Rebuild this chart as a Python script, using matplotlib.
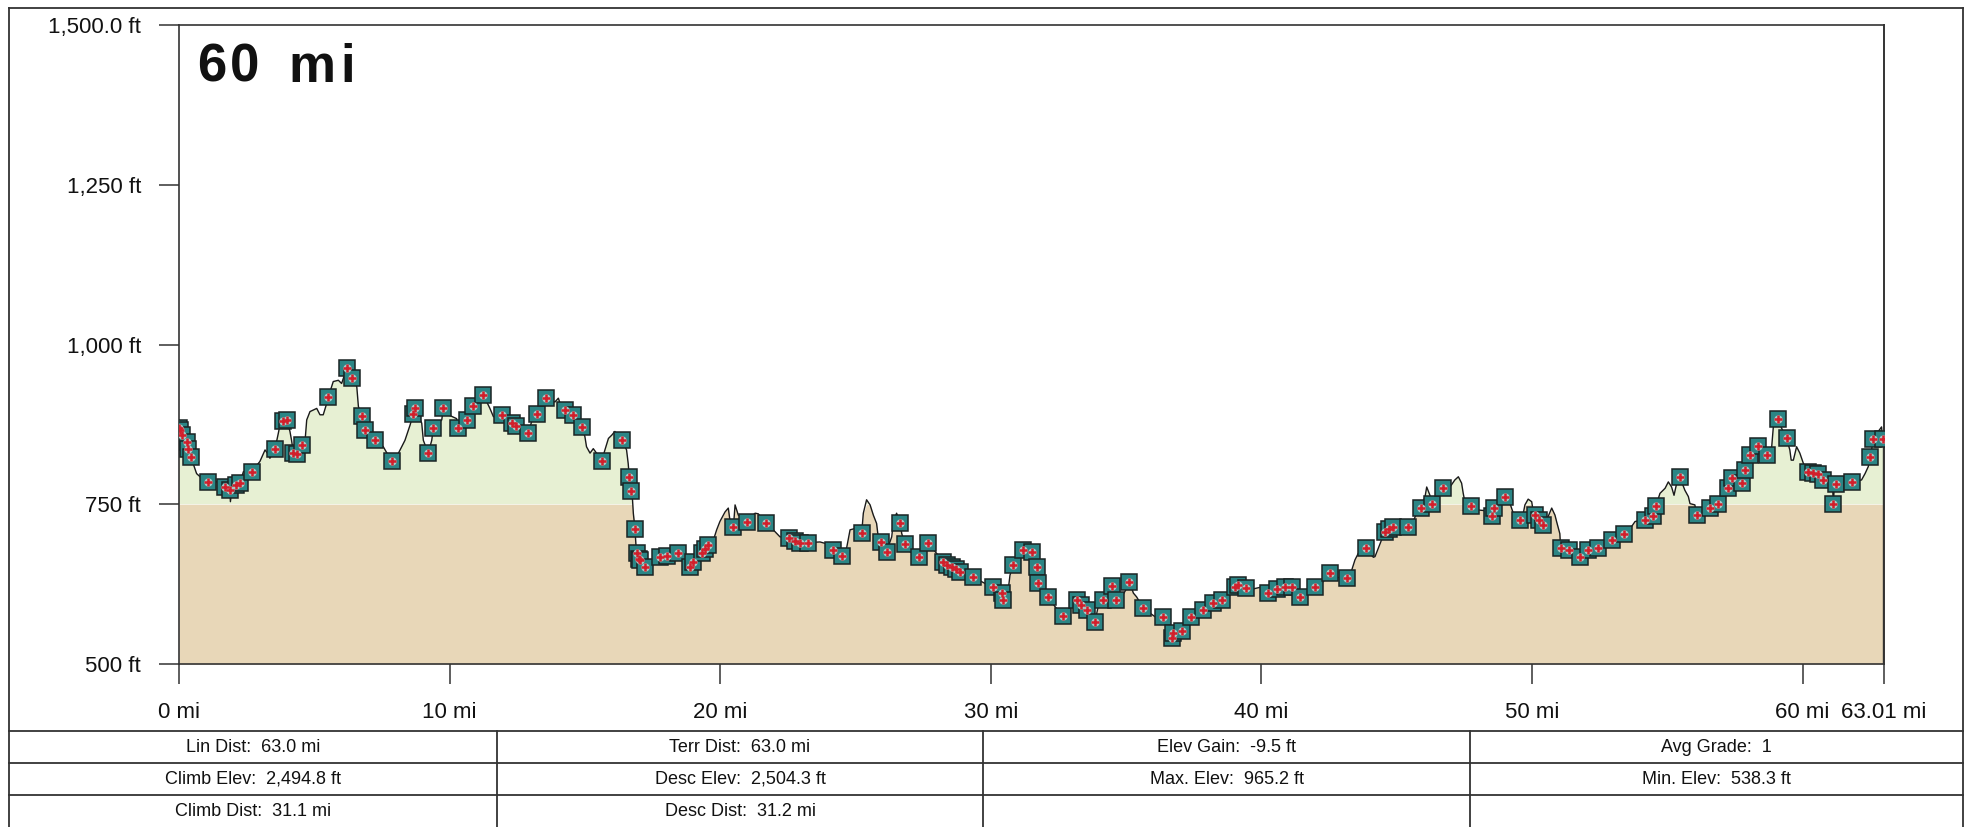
import matplotlib
matplotlib.use("Agg")
import matplotlib.pyplot as plt
import numpy as np
from matplotlib.lines import Line2D

plt.rcParams['font.family'] = ['Liberation Sans', 'DejaVu Sans']

# ---------------- data ----------------
dist_mi = [
    0.00, 0.05, 0.10, 0.30, 0.34, 0.44, 0.65, 0.78, 1.08, 1.45,
    1.70, 1.88, 1.90, 1.95, 2.10, 2.25, 2.38, 2.69, 2.99, 3.18,
    3.30, 3.36, 3.55, 3.67, 3.73, 3.85, 3.98, 4.10, 4.16, 4.23,
    4.35, 4.53, 4.66, 4.72, 4.84, 5.09, 5.21, 5.33, 5.46, 5.52,
    5.70, 5.89, 6.01, 6.20, 6.38, 6.57, 6.63, 6.75, 6.87, 7.24,
    7.55, 7.86, 7.98, 8.11, 8.35, 8.54, 8.66, 8.72, 8.97, 9.03,
    9.21, 9.34, 9.40, 9.71, 9.77, 9.95, 10.26, 10.32, 10.50, 10.63,
    10.88, 11.25, 11.49, 11.62, 11.92, 12.29, 12.45, 12.60, 12.91, 13.03,
    13.22, 13.40, 13.56, 13.89, 14.02, 14.08, 14.26, 14.57, 14.88, 15.00,
    15.06, 15.19, 15.31, 15.43, 15.62, 15.74, 15.87, 15.99, 16.11, 16.17,
    16.38, 16.54, 16.60, 16.64, 16.69, 16.76, 16.79, 16.85, 16.89, 16.94,
    17.00, 17.04, 17.22, 17.59, 17.78, 18.02, 18.45, 18.76, 18.88, 19.00,
    19.07, 19.31, 19.45, 19.56, 19.75, 19.87, 19.99, 20.18, 20.30, 20.36,
    20.49, 20.55, 20.67, 20.79, 20.98, 21.29, 21.41, 21.68, 21.96, 22.21,
    22.54, 22.75, 22.95, 23.26, 23.69, 23.94, 24.18, 24.51, 24.67, 24.80,
    24.98, 25.23, 25.29, 25.41, 25.54, 25.66, 25.78, 25.84, 25.94, 26.15,
    26.34, 26.40, 26.52, 26.65, 26.71, 26.83, 27.01, 27.35, 27.57, 27.67,
    28.00, 28.25, 28.40, 28.55, 28.70, 28.86, 29.35, 29.79, 30.09, 30.40,
    30.44, 30.65, 30.71, 30.83, 31.02, 31.20, 31.51, 31.69, 31.76, 32.13,
    32.37, 32.68, 32.99, 33.17, 33.35, 33.54, 33.85, 33.97, 34.16, 34.28,
    34.47, 34.63, 34.71, 34.84, 35.02, 35.12, 35.27, 35.39, 35.64, 36.07,
    36.38, 36.56, 36.62, 36.68, 36.75, 37.05, 37.24, 37.40, 37.85, 38.22,
    38.53, 38.84, 39.02, 39.15, 39.33, 39.45, 39.64, 40.07, 40.26, 40.56,
    40.87, 41.12, 41.43, 41.67, 41.98, 42.29, 42.53, 42.72, 43.15, 43.34,
    43.46, 43.58, 43.85, 44.01, 44.14, 44.20, 44.32, 44.44, 44.57, 44.72,
    44.87, 45.18, 45.43, 45.61, 45.74, 45.90, 46.05, 46.11, 46.23, 46.29,
    46.48, 46.72, 46.97, 47.15, 47.28, 47.40, 47.46, 47.52, 47.74, 48.02,
    48.26, 48.51, 48.61, 48.82, 49.00, 49.19, 49.31, 49.56, 49.68, 49.74,
    49.86, 49.99, 50.05, 50.11, 50.25, 50.42, 50.60, 50.73, 50.85, 50.91,
    51.03, 51.06, 51.37, 51.77, 52.08, 52.45, 52.94, 53.40, 53.68, 53.81,
    54.18, 54.48, 54.58, 54.73, 54.92, 55.04, 55.16, 55.25, 55.35, 55.47,
    55.65, 55.78, 55.84, 56.02, 56.09, 56.33, 56.58, 56.89, 57.07, 57.26,
    57.38, 57.56, 57.75, 57.87, 58.06, 58.36, 58.67, 58.86, 58.92, 59.08,
    59.26, 59.41, 59.53, 59.58, 59.66, 59.78, 59.90, 60.03, 60.21, 60.40,
    60.58, 60.77, 61.10, 61.14, 61.18, 61.22, 61.57, 61.84, 62.18, 62.31,
    62.43, 62.49, 62.55, 62.61, 62.80, 62.92, 62.96, 63.01,
]

elev_ft = [
    870, 866, 858, 848, 837, 824, 798, 793, 785, 785,
    777, 772, 754, 772, 780, 783, 801, 801, 817, 835,
    828, 822, 837, 861, 874, 880, 882, 864, 850, 830,
    828, 843, 850, 882, 895, 900, 890, 890, 908, 918,
    942, 944, 939, 963, 947, 934, 903, 888, 866, 850,
    840, 817, 806, 830, 850, 874, 892, 900, 877, 850,
    830, 850, 869, 882, 900, 890, 884, 869, 880, 882,
    903, 921, 900, 887, 890, 877, 872, 869, 862, 879,
    892, 908, 916, 910, 916, 908, 897, 890, 871, 856,
    840, 830, 837, 830, 817, 835, 853, 858, 864, 856,
    850, 835, 814, 793, 770, 757, 736, 712, 684, 674,
    665, 662, 652, 662, 668, 669, 673, 660, 652, 660,
    662, 673, 680, 686, 694, 710, 723, 738, 744, 725,
    715, 749, 733, 730, 723, 736, 735, 720, 710, 699,
    697, 692, 689, 690, 691, 688, 679, 669, 681, 710,
    712, 705, 736, 757, 749, 733, 720, 699, 691, 676,
    699, 723, 736, 720, 704, 688, 676, 667, 689, 690,
    673, 659, 655, 652, 648, 644, 636, 626, 620, 611,
    600, 618, 639, 655, 668, 679, 676, 652, 626, 605,
    590, 575, 590, 600, 592, 584, 566, 590, 600, 618,
    622, 600, 590, 605, 618, 629, 611, 605, 587, 574,
    574, 566, 553, 540, 548, 552, 566, 574, 584, 595,
    600, 611, 621, 624, 621, 619, 617, 621, 611, 617,
    621, 620, 605, 616, 620, 629, 643, 636, 634, 647,
    663, 673, 681, 673, 667, 668, 681, 694, 707, 711,
    715, 715, 714, 723, 736, 744, 762, 777, 764, 750,
    767, 775, 777, 788, 793, 783, 767, 754, 747, 741,
    740, 731, 744, 754, 762, 751, 736, 726, 736, 749,
    758, 754, 738, 733, 725, 717, 731, 744, 733, 723,
    704, 681, 678, 667, 678, 681, 694, 703, 715, 723,
    726, 732, 747, 767, 775, 785, 777, 764, 783, 792,
    772, 762, 751, 749, 733, 736, 744, 750, 772, 775,
    791, 783, 783, 804, 827, 841, 827, 840, 871, 883,
    866, 853, 835, 819, 819, 840, 830, 814, 801, 799,
    797, 788, 785, 751, 785, 782, 785, 785, 788, 798,
    809, 824, 835, 852, 864, 871, 852, 855,
]

# 1 = waypoint marker drawn on that profile point
waypoint = [
    1, 1, 1, 1, 1, 1, 0, 0, 1, 0,
    1, 1, 0, 0, 1, 1, 0, 1, 0, 0,
    0, 0, 1, 0, 0, 1, 1, 0, 0, 1,
    1, 1, 0, 0, 0, 0, 0, 0, 0, 1,
    0, 0, 0, 1, 1, 0, 0, 1, 1, 1,
    0, 1, 0, 0, 0, 0, 1, 1, 0, 0,
    1, 0, 1, 0, 1, 0, 0, 1, 0, 1,
    1, 1, 0, 0, 1, 1, 1, 0, 1, 0,
    1, 0, 1, 0, 0, 0, 1, 1, 1, 0,
    0, 0, 0, 0, 1, 0, 0, 0, 0, 0,
    1, 0, 0, 1, 1, 0, 0, 1, 0, 1,
    1, 1, 1, 0, 1, 1, 1, 0, 1, 1,
    0, 1, 1, 1, 0, 0, 0, 0, 0, 0,
    1, 0, 0, 0, 1, 0, 0, 1, 0, 0,
    1, 1, 1, 1, 0, 0, 1, 1, 0, 0,
    0, 1, 0, 0, 0, 0, 0, 0, 1, 1,
    0, 0, 0, 1, 0, 1, 0, 1, 0, 1,
    0, 1, 1, 1, 1, 1, 1, 0, 1, 1,
    1, 0, 0, 1, 0, 1, 1, 1, 1, 1,
    0, 1, 0, 1, 1, 1, 1, 0, 1, 0,
    1, 1, 0, 0, 0, 1, 0, 0, 1, 0,
    1, 0, 0, 1, 1, 1, 0, 1, 1, 1,
    1, 0, 1, 1, 0, 1, 0, 0, 1, 1,
    1, 1, 1, 0, 1, 0, 1, 0, 1, 0,
    0, 0, 1, 0, 0, 0, 0, 0, 1, 1,
    1, 0, 1, 0, 0, 1, 0, 0, 0, 1,
    0, 1, 0, 0, 0, 0, 0, 0, 1, 0,
    0, 1, 1, 0, 1, 0, 0, 1, 0, 0,
    0, 0, 0, 1, 1, 1, 0, 0, 0, 0,
    0, 1, 1, 1, 1, 1, 1, 1, 0, 0,
    1, 1, 1, 0, 0, 0, 0, 0, 0, 1,
    0, 0, 0, 0, 1, 0, 1, 1, 0, 1,
    1, 0, 1, 1, 1, 1, 1, 0, 0, 1,
    0, 1, 0, 0, 0, 0, 0, 0, 1, 1,
    1, 1, 0, 1, 0, 1, 0, 1, 0, 0,
    0, 1, 0, 1, 0, 0, 1, 0,
]

x_ticks = [0, 10, 20, 30, 40, 50, 60, 63.01]
x_tick_labels = ["0 mi", "10 mi", "20 mi", "30 mi", "40 mi", "50 mi", "60 mi", "63.01 mi"]
y_ticks = [500, 750, 1000, 1250, 1500]
y_tick_labels = ["500 ft", "750 ft", "1,000 ft", "1,250 ft", "1,500.0 ft"]
band_ft = 750
title_chars = ["6", "0", "m", "i"]
stats_rows = [
    ["Lin Dist:  63.0 mi", "Terr Dist:  63.0 mi", "Elev Gain:  -9.5 ft", "Avg Grade:  1"],
    ["Climb Elev:  2,494.8 ft", "Desc Elev:  2,504.3 ft", "Max. Elev:  965.2 ft", "Min. Elev:  538.3 ft"],
    ["Climb Dist:  31.1 mi", "Desc Dist:  31.2 mi", "", ""],
]

# ---------------- styling ----------------
GREEN = "#E7F0D3"
TAN = "#E8D7B8"
FRAME = "#333333"

W, H = 1967, 827
fig = plt.figure(figsize=(W / 100, H / 100), dpi=100)
fig.patch.set_facecolor("white")


def fx(px):
    return px / W


def fy(py):
    return 1 - py / H


AX_L, AX_R, AX_T, AX_B = 179, 1884, 25, 664
ax = fig.add_axes([fx(AX_L), fy(AX_B), (AX_R - AX_L) / W, (AX_B - AX_T) / H])

x = np.array(dist_mi)
y = np.array(elev_ft, dtype=float)
wp = np.array(waypoint) == 1

ax.fill_between(x, y_ticks[0], np.minimum(y, band_ft), color=TAN, lw=0, zorder=1)
ax.fill_between(x, band_ft, y, where=y > band_ft, interpolate=True, color=GREEN, lw=0, zorder=1)
ax.plot(x, y, color="#1a1a1a", lw=1.0, zorder=2)
ax.vlines([x[-1]], y_ticks[0], y[-1], color="#222222", lw=2.4, zorder=2)

ax.plot(x[wp], y[wp], ls="none", marker="s", ms=11, mfc="#2B8585", mec="#1B2424",
        mew=1.1, zorder=3)
ax.plot(x[wp], y[wp], ls="none", marker="o", ms=6, mfc="#A9C9C6", mec="none", zorder=4)
ax.plot(x[wp], y[wp], ls="none", marker="+", ms=6, mew=1.8, color="#D21F2B", zorder=5)

ax.set_xlim(0, x_ticks[-1])
ax.set_ylim(y_ticks[0], y_ticks[-1])
ax.set_xticks(x_ticks)
ax.set_xticklabels(x_tick_labels)
ax.set_yticks(y_ticks)
ax.set_yticklabels(y_tick_labels)
ax.tick_params(axis="both", direction="out", length=14.4, width=1.1, color=FRAME,
               labelsize=16, labelcolor="#111111", pad=13)
for s in ax.spines.values():
    s.set_color(FRAME)
    s.set_linewidth(1.2)
ax.spines["right"].set_linewidth(1.4)
ax.set_facecolor("white")

# Big distance caption
title_x = [197, 230, 288, 340]
for ch, px in zip(title_chars, title_x):
    fig.text(fx(px), fy(82), ch, fontsize=38, fontweight="bold", color="#111111",
             ha="left", va="baseline")


def fline(x0, y0, x1, y1, lw=1.3, color=FRAME):
    fig.add_artist(Line2D([fx(x0), fx(x1)], [fy(y0), fy(y1)], transform=fig.transFigure,
                          color=color, lw=lw))


# Outer frame
fline(9, 8, 1963, 8)
fline(9, 8, 9, 827)
fline(1963, 8, 1963, 827)

# Statistics table
row_lines = [731, 763, 795]
col_lines = [9, 497, 983, 1470, 1963]
for ry in row_lines:
    fline(9, ry, 1963, ry)
for cx in col_lines[1:-1]:
    fline(cx, row_lines[0], cx, 827)
row_h = row_lines[1] - row_lines[0]
for r, row in enumerate(stats_rows):
    cy = row_lines[0] + row_h * (r + 0.5)
    for c, txt in enumerate(row):
        if not txt:
            continue
        cx = (col_lines[c] + col_lines[c + 1]) / 2
        fig.text(fx(cx), fy(cy), txt, fontsize=13, color="#111111",
                 ha="center", va="center")

fig.savefig("out.png", dpi=100, facecolor="white")
